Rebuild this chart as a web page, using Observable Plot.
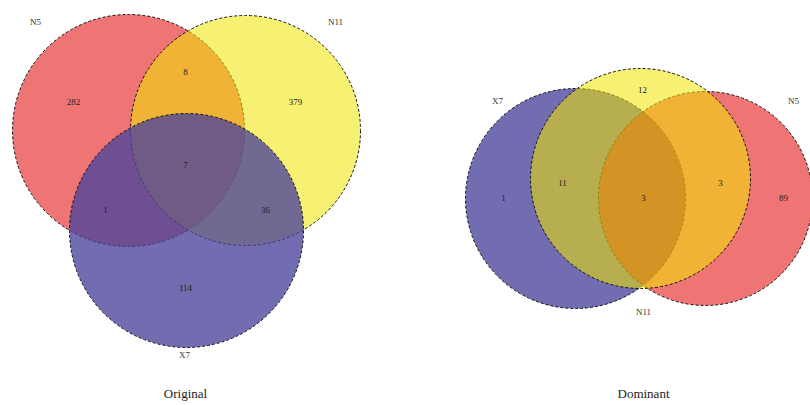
<!DOCTYPE html>
<html>
<head>
<meta charset="utf-8">
<script src="https://cdn.jsdelivr.net/npm/d3@7"></script>
<script src="https://cdn.jsdelivr.net/npm/@observablehq/plot@0.6"></script>
<style>
  html, body { margin: 0; padding: 0; background: #fff; }
</style>
</head>
<body>
<div id="chart"></div>
<script>
// Set names and region counts for the two three-way Venn diagrams
const panelTitles = ["Original", "Dominant"];
const setNames = ["N5", "N11", "X7"];
const setColors = ["#e20404", "#f0e600", "#4a439b"];
const setOpacity = [0.55, 0.55, 0.78];

// Original: region counts (only / pairwise / all three)
const originalRegions = ["N5", "N11", "X7", "N5&N11", "N5&X7", "N11&X7", "N5&N11&X7"];
const originalCounts  = [282, 379, 114, 8, 1, 36, 7];

// Dominant: region counts
const dominantRegions = ["X7", "N11", "N5", "X7&N11", "N11&N5", "X7&N11&N5"];
const dominantCounts  = [1, 12, 89, 11, 3, 3];

// Circle layout for each panel (pixel geometry, drawn in this order)
const layout = [
  {panel: "Original", set: "N5",  cx: 128, cy: 130, r: 116, lx: 35,  ly: 22},
  {panel: "Original", set: "N11", cx: 245, cy: 130, r: 115, lx: 335, ly: 22},
  {panel: "Original", set: "X7",  cx: 186, cy: 230, r: 117, lx: 184, ly: 355},
  {panel: "Dominant", set: "X7",  cx: 575, cy: 198, r: 110, lx: 497, ly: 101},
  {panel: "Dominant", set: "N5",  cx: 705, cy: 198, r: 107, lx: 793, ly: 101},
  {panel: "Dominant", set: "N11", cx: 640, cy: 178, r: 110, lx: 643, ly: 312}
];

// Where each region's count is written
const regionAnchors = {
  Original: {
    "N5": [73, 102], "N11": [295, 102], "X7": [185, 288],
    "N5&N11": [185, 72], "N5&X7": [105, 210], "N11&X7": [265, 210], "N5&N11&X7": [185, 165]
  },
  Dominant: {
    "X7": [503, 198], "N11": [642, 90], "N5": [783, 198],
    "X7&N11": [562, 183], "N11&N5": [720, 183], "X7&N11&N5": [643, 198]
  }
};
const titleAnchors = {Original: [185, 393], Dominant: [643, 393]};

const colorOf = Object.fromEntries(setNames.map((s, i) => [s, setColors[i]]));
const opacityOf = Object.fromEntries(setNames.map((s, i) => [s, setOpacity[i]]));

const counts = [
  ...originalRegions.map((reg, i) => ({panel: "Original", region: reg, n: originalCounts[i]})),
  ...dominantRegions.map((reg, i) => ({panel: "Dominant", region: reg, n: dominantCounts[i]}))
].map(d => ({...d, x: regionAnchors[d.panel][d.region][0], y: regionAnchors[d.panel][d.region][1]}));

const titles = panelTitles.map(t => ({t, x: titleAnchors[t][0], y: titleAnchors[t][1]}));

const font = "Liberation Serif";

const chart = Plot.plot({
  width: 810,
  height: 405,
  margin: 0,
  x: {domain: [0, 810], axis: null},
  y: {domain: [0, 405], reverse: true, axis: null},
  r: {type: "identity"},
  opacity: {type: "identity"},
  style: {fontFamily: font, background: "#fff"},
  marks: [
    // circles keep their layout order (no radius sorting) so overlaps blend as listed
    Plot.dot(layout, {
      x: "cx", y: "cy", r: "r", sort: null,
      fill: d => colorOf[d.set], fillOpacity: d => opacityOf[d.set],
      stroke: "#111", strokeWidth: 1, strokeDasharray: "3,2"
    }),
    Plot.text(counts, {x: "x", y: "y", text: d => String(d.n), fontSize: 9, fill: "#222", fontFamily: font}),
    Plot.text(layout, {x: "lx", y: "ly", text: "set", fontSize: 9, fill: "#333", fontFamily: font}),
    Plot.text(titles, {x: "x", y: "y", text: "t", fontSize: 13, fill: "#222", fontFamily: font})
  ]
});

document.getElementById("chart").appendChild(chart);
</script>
</body>
</html>
